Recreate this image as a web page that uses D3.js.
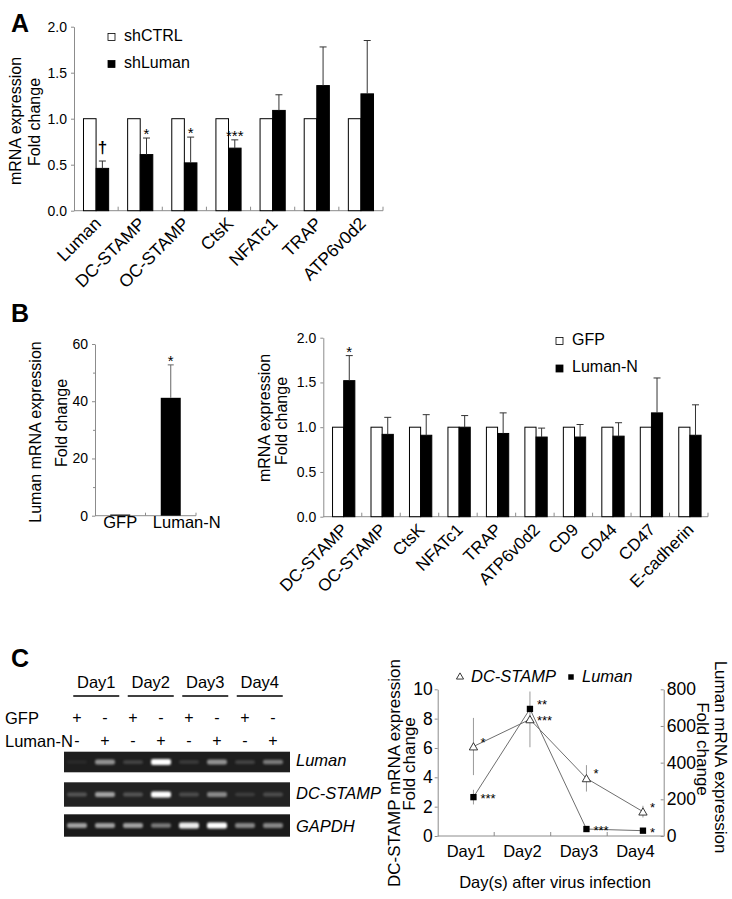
<!DOCTYPE html>
<html><head><meta charset="utf-8">
<script src="https://cdn.jsdelivr.net/npm/d3@7"></script>
<style>
body{margin:0;background:#fff}
svg{display:block}
text{font-family:"Liberation Sans",Arial,sans-serif}
</style>
</head><body>
<svg id="fig" width="732" height="899"></svg>
<script>
// ---------- Panel A data ----------
const aCategories = ["Luman","DC-STAMP","OC-STAMP","CtsK","NFATc1","TRAP","ATP6v0d2"];
const aSeries = ["shCTRL","shLuman"];
const aCtrl = [1,1,1,1,1,1,1];
const aShLuman = [0.46,0.61,0.52,0.68,1.09,1.36,1.27];
const aShLumanErr = [0.08,0.18,0.28,0.09,0.17,0.42,0.58];
const aSig = ["\u2020","*","*","***","","",""];
const aTicks = [0,0.5,1,1.5,2];

// ---------- Panel B (left) data ----------
const bLeftCategories = ["GFP","Luman-N"];
const bLeftValues = [0.4, 41.2];
const bLeftErr = [0, 11.5];
const bLeftSig = ["","*"];
const bLeftTicks = [0,20,40,60];
const bLeftMinorTicks = [10,30,50];

// ---------- Panel B (right) data ----------
const bCategories = ["DC-STAMP","OC-STAMP","CtsK","NFATc1","TRAP","ATP6v0d2","CD9","CD44","CD47","E-cadherin"];
const bSeries = ["GFP","Luman-N"];
const bGFP = [1,1,1,1,1,1,1,1,1,1];
const bLumanN = [1.52,0.92,0.91,1.0,0.93,0.89,0.89,0.90,1.16,0.91];
const bLumanNErr = [0.28,0.19,0.23,0.13,0.23,0.10,0.14,0.15,0.39,0.34];
const bSig = ["*","","","","","","","","",""];
const bTicks = [0,0.5,1,1.5,2];

// ---------- Panel C gel data ----------
const cDays = ["Day1","Day2","Day3","Day4"];
const cLanes = [0,1,2,3,4,5,6,7];
const cGfpSigns = ["+","-","+","-","+","-","+","-"];
const cLumanNSigns = ["-","+","-","+","-","+","-","+"];
const cGelGenes = ["Luman","DC-STAMP","GAPDH"];
const cGelLuman = [0.05,0.65,0.25,1.0,0.2,0.65,0.25,0.55];
const cGelDcStamp = [0.35,0.7,0.35,1.0,0.3,0.6,0.2,0.3];
const cGelGapdh = [0.7,0.7,0.7,0.55,0.95,1.0,0.6,0.6];

// ---------- Panel C line chart data ----------
const cDcStamp = [6.1,7.95,3.93,1.66];
const cDcStampErr = [1.95,1.9,0.9,0.4];
const cDcStampSig = ["*","***","*","*"];
const cLuman = [212,693,38,29];
const cLumanErr = [40,0,0,0];
const cLumanSig = ["***","**","***","*"];
const cLeftTicks = [0,2,4,6,8,10];
const cRightTicks = [0,200,400,600,800];

// ================= drawing =================
const svg = d3.select("#fig");
const AXIS = "#8c8c8c";

function styleAxis(g, fs){
  g.selectAll("path,line").attr("stroke",AXIS).attr("stroke-width",1);
  g.selectAll("text").attr("fill","#000").attr("font-size",fs);
}

function panelLetter(t,x,y){
  svg.append("text").attr("x",x).attr("y",y).attr("font-size",25).attr("font-weight","bold").text(t);
}

function yTitle(lines, xs, cy, fs, rot){
  lines.forEach((t,i)=>{
    svg.append("text").attr("transform",`translate(${xs[i]},${cy[i]}) rotate(${rot||-90})`)
      .attr("text-anchor","middle").attr("font-size",fs).text(t);
  });
}

function groupedBars(o){
  const g = svg.append("g");
  const x = d3.scaleBand().domain(o.categories).range(o.xr);
  const bw = x.bandwidth();
  const x1 = d3.scaleBand().domain(o.series).range([bw*o.sub[0], bw*o.sub[1]]);
  const y = d3.scaleLinear().domain([0,o.ymax]).range(o.yr);
  const ya = g.append("g").attr("transform",`translate(${o.xr[0]},0)`)
    .call(d3.axisLeft(y).tickValues(o.ticks).tickFormat(d3.format(".1f")).tickSize(3).tickSizeOuter(0).tickPadding(4));
  styleAxis(ya, o.tickFs);
  g.append("line").attr("x1",o.xr[0]).attr("x2",o.xr[1]).attr("y1",y(0)).attr("y2",y(0)).attr("stroke",AXIS);
  g.selectAll(".xt").data(o.categories).join("line")
    .attr("x1",(d)=>x(d)+x.step()).attr("x2",(d)=>x(d)+x.step())
    .attr("y1",y(0)).attr("y2",y(0)-4).attr("stroke",AXIS);
  o.categories.forEach((c,i)=>{
    const vals = [o.v0[i], o.v1[i]];
    vals.forEach((v,k)=>{
      g.append("rect").attr("x",x(c)+x1(o.series[k])).attr("width",x1.bandwidth())
        .attr("y",y(v)).attr("height",y(0)-y(v))
        .attr("fill",k===0?"#fff":"#000").attr("stroke","#000").attr("stroke-width",1);
    });
    const cx = x(c)+x1(o.series[1])+x1.bandwidth()/2;
    const top = o.v1[i]+o.err[i];
    g.append("line").attr("x1",cx).attr("x2",cx).attr("y1",y(o.v1[i])).attr("y2",y(top)).attr("stroke","#333");
    g.append("line").attr("x1",cx-3.5).attr("x2",cx+3.5).attr("y1",y(top)).attr("y2",y(top)).attr("stroke","#333");
    if(o.sig[i]){
      const dag = o.sig[i]==="\u2020";
      g.append("text").attr("x",cx).attr("y",y(top)+(dag?-8:1)).attr("text-anchor","middle")
        .attr("font-size",dag?17:15).attr("font-weight",dag?"bold":"normal").text(o.sig[i]);
    }
    g.append("text").attr("transform",`translate(${x(c)+bw/2+6},${y(0)+14}) rotate(-45)`)
      .attr("text-anchor","end").attr("font-size",o.catFs).text(c);
  });
  o.series.forEach((s,k)=>{
    g.append("rect").attr("x",o.legend[0]).attr("y",o.legend[1]+k*o.legend[2]-7).attr("width",7).attr("height",7)
      .attr("fill",k===0?"#fff":"#000").attr("stroke","#000").attr("stroke-width",0.8);
    g.append("text").attr("x",o.legend[0]+16).attr("y",o.legend[1]+k*o.legend[2]).attr("font-size",o.legFs).text(s);
  });
}

// ---- Panel A ----
panelLetter("A",11,32);
groupedBars({categories:aCategories, series:aSeries, v0:aCtrl, v1:aShLuman, err:aShLumanErr, sig:aSig,
  xr:[74,383], yr:[210.7,26.7], ymax:2, ticks:aTicks, sub:[0.215,0.785], tickFs:14, catFs:17.5,
  legend:[108,40.5,27], legFs:16});
yTitle(["mRNA expression","Fold change"],[21,40],[121,122],16);

// ---- Panel B left ----
panelLetter("B",11,322);
(function(){
  const g = svg.append("g");
  const x = d3.scaleBand().domain(bLeftCategories).range([95,196]);
  const y = d3.scaleLinear().domain([0,60]).range([515.7,344]);
  const ya = g.append("g").attr("transform","translate(95,0)")
    .call(d3.axisLeft(y).tickValues(bLeftTicks).tickFormat(d3.format("d")).tickSize(3).tickSizeOuter(0).tickPadding(4));
  styleAxis(ya,14);
  const ym = g.append("g").attr("transform","translate(95,0)")
    .call(d3.axisLeft(y).tickValues(bLeftMinorTicks).tickFormat("").tickSize(2).tickSizeOuter(0));
  styleAxis(ym,14); ym.select(".domain").remove();
  g.append("line").attr("x1",95).attr("x2",196).attr("y1",y(0)).attr("y2",y(0)).attr("stroke",AXIS);
  g.selectAll(".xt").data(bLeftCategories).join("line")
    .attr("x1",d=>x(d)+x.step()).attr("x2",d=>x(d)+x.step()).attr("y1",y(0)).attr("y2",y(0)-3).attr("stroke",AXIS);
  bLeftCategories.forEach((c,i)=>{
    const cx = x(c)+x.bandwidth()/2;
    const v = bLeftValues[i];
    g.append("rect").attr("x",cx-10).attr("width",20).attr("y",y(v)).attr("height",y(0)-y(v)).attr("fill","#000");
    if(bLeftErr[i]>0){
      const t = v+bLeftErr[i];
      g.append("line").attr("x1",cx).attr("x2",cx).attr("y1",y(v)).attr("y2",y(t)).attr("stroke","#666");
      g.append("line").attr("x1",cx-3).attr("x2",cx+3).attr("y1",y(t)).attr("y2",y(t)).attr("stroke","#666");
      if(bLeftSig[i]) g.append("text").attr("x",cx).attr("y",y(t)+1).attr("text-anchor","middle").attr("font-size",15).text(bLeftSig[i]);
    }
    g.append("text").attr("x",cx+i*16).attr("y",528).attr("text-anchor","middle").attr("font-size",16.5).text(c);
  });
})();
yTitle(["Luman mRNA expression","Fold change"],[41,67],[432,423],16);

// ---- Panel B right ----
groupedBars({categories:bCategories, series:bSeries, v0:bGFP, v1:bLumanN, err:bLumanNErr, sig:bSig,
  xr:[323.3,708], yr:[516.7,337.7], ymax:2, ticks:bTicks, sub:[0.24,0.82], tickFs:14, catFs:17,
  legend:[556,344.5,27.5], legFs:16});
yTitle(["mRNA expression","Fold change"],[270,287],[418,421],16);

// ---- Panel C gel ----
panelLetter("C",11,667);
(function(){
  const g = svg.append("g");
  const defs = svg.append("defs");
  defs.append("filter").attr("id","blur").attr("x","-50%").attr("y","-100%").attr("width","200%").attr("height","300%")
    .append("feGaussianBlur").attr("stdDeviation",1.1);
  const dayX = d3.scaleBand().domain(cDays).range([69,287]);
  cDays.forEach(d=>{
    const cx = dayX(d)+dayX.bandwidth()/2;
    g.append("text").attr("x",cx).attr("y",688).attr("text-anchor","middle").attr("font-size",16.5).text(d);
    g.append("line").attr("x1",cx-23).attr("x2",cx+23).attr("y1",696).attr("y2",696).attr("stroke","#000").attr("stroke-width",1.3);
  });
  const lx = d3.scaleBand().domain(cLanes).range([63,287]);
  g.append("text").attr("x",5).attr("y",724).attr("font-size",16.5).text("GFP");
  g.append("text").attr("x",5).attr("y",747).attr("font-size",16.5).text("Luman-N");
  cLanes.forEach(l=>{
    const cx = lx(l)+lx.bandwidth()/2;
    g.append("text").attr("x",cx).attr("y",723).attr("text-anchor","middle").attr("font-size",16).text(cGfpSigns[l]);
    g.append("text").attr("x",cx).attr("y",746).attr("text-anchor","middle").attr("font-size",16).text(cLumanNSigns[l]);
  });
  const rows = [
    {gene:cGelGenes[0], vals:cGelLuman, top:751.7, h:20.6, bg:"#1e1e1e", label:766},
    {gene:cGelGenes[1], vals:cGelDcStamp, top:782.3, h:24.4, bg:"#222", label:799},
    {gene:cGelGenes[2], vals:cGelGapdh, top:814.3, h:22.4, bg:"#1a1a1a", label:832}
  ];
  rows.forEach(r=>{
    g.append("rect").attr("x",64).attr("y",r.top).attr("width",226).attr("height",r.h).attr("fill",r.bg);
    r.vals.forEach((v,l)=>{
      const cx = lx(l)+lx.bandwidth()/2;
      const bh = 3+3*v;
      const c = Math.round(70+185*v);
      g.append("rect").attr("x",cx-10).attr("y",r.top+r.h*0.5-bh/2).attr("width",20).attr("height",bh)
        .attr("rx",2).attr("fill",`rgb(${c},${c},${c})`).attr("opacity",0.25+0.75*v).attr("filter","url(#blur)");
    });
    g.append("text").attr("x",296).attr("y",r.label).attr("font-size",16.5).attr("font-style","italic").text(r.gene);
  });
})();

// ---- Panel C line chart ----
(function(){
  const g = svg.append("g");
  const x = d3.scaleBand().domain(cDays).range([437.7,663.7]);
  const px = d => x(d)+x.bandwidth()/2+7.5;
  const yL = d3.scaleLinear().domain([0,10]).range([836,689.3]);
  const yR = d3.scaleLinear().domain([0,800]).range([836,689.3]);
  const al = g.append("g").attr("transform","translate(437.7,0)")
    .call(d3.axisLeft(yL).tickValues(cLeftTicks).tickSize(3).tickSizeOuter(0).tickPadding(2));
  styleAxis(al,17.5);
  const ar = g.append("g").attr("transform","translate(663.7,0)")
    .call(d3.axisRight(yR).tickValues(cRightTicks).tickSize(-3).tickSizeOuter(0).tickPadding(3));
  styleAxis(ar,17.5);
  g.append("line").attr("x1",437.7).attr("x2",663.7).attr("y1",836).attr("y2",836).attr("stroke",AXIS);
  g.selectAll(".xt").data(cDays.slice(0,3)).join("line")
    .attr("x1",d=>x(d)+x.step()).attr("x2",d=>x(d)+x.step()).attr("y1",836).attr("y2",832).attr("stroke",AXIS);
  cDays.forEach(d=>{
    g.append("text").attr("x",x(d)+x.bandwidth()/2).attr("y",857).attr("text-anchor","middle").attr("font-size",16.5).text(d);
  });
  cDays.forEach((d,i)=>{
    g.append("line").attr("x1",px(d)).attr("x2",px(d)).attr("y1",yL(cDcStamp[i]-cDcStampErr[i])).attr("y2",yL(cDcStamp[i]+cDcStampErr[i])).attr("stroke","#999");
    if(cLumanErr[i]>0) g.append("line").attr("x1",px(d)).attr("x2",px(d)).attr("y1",yR(cLuman[i]-cLumanErr[i])).attr("y2",yR(cLuman[i]+cLumanErr[i])).attr("stroke","#999");
  });
  const lineL = d3.line().x((v,i)=>px(cDays[i])).y(v=>yL(v));
  const lineR = d3.line().x((v,i)=>px(cDays[i])).y(v=>yR(v));
  g.append("path").attr("d",lineL(cDcStamp)).attr("fill","none").attr("stroke","#6e6e6e").attr("stroke-width",1);
  g.append("path").attr("d",lineR(cLuman)).attr("fill","none").attr("stroke","#6e6e6e").attr("stroke-width",1);
  const tri = d3.symbol(d3.symbolTriangle,30);
  const sq = d3.symbol(d3.symbolSquare,40);
  cDays.forEach((d,i)=>{
    const yd = yL(cDcStamp[i]), yl = yR(cLuman[i]);
    const dcUpper = yd < yl;
    g.append("path").attr("d",sq()).attr("transform",`translate(${px(d)},${yl})`).attr("fill","#000");
    g.append("path").attr("d",tri()).attr("transform",`translate(${px(d)},${yd+1})`).attr("fill","#fff").attr("stroke","#222").attr("stroke-width",0.9);
    // upper marker's label sits level, lower marker's label drops slightly
    g.append("text").attr("x",px(d)+7).attr("y",yd+(dcUpper?0:6)).attr("font-size",13).text(cDcStampSig[i]);
    g.append("text").attr("x",px(d)+7).attr("y",yl+(dcUpper?6:0)).attr("font-size",13).text(cLumanSig[i]);
  });
  g.append("path").attr("d",d3.symbol(d3.symbolTriangle,22)()).attr("transform","translate(460,677)").attr("fill","#fff").attr("stroke","#222").attr("stroke-width",0.9);
  g.append("text").attr("x",471).attr("y",682).attr("font-size",16.5).attr("font-style","italic").text("DC-STAMP");
  g.append("path").attr("d",d3.symbol(d3.symbolSquare,30)()).attr("transform","translate(571,677)").attr("fill","#000");
  g.append("text").attr("x",582).attr("y",682).attr("font-size",16.5).attr("font-style","italic").text("Luman");
  g.append("text").attr("x",555).attr("y",888).attr("text-anchor","middle").attr("font-size",16.5).text("Day(s) after virus infection");
})();
yTitle(["DC-STAMP mRNA expression","Fold change"],[400,415],[773,764],17);
yTitle(["Luman mRNA expression","Fold change"],[715,697],[757,749],17,90);
</script>
</body></html>
